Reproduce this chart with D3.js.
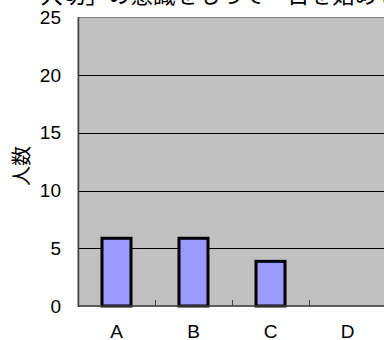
<!DOCTYPE html>
<html>
<head>
<meta charset="utf-8">
<script src="https://cdn.jsdelivr.net/npm/d3@7"></script>
<style>
  html, body { margin: 0; padding: 0; background: #fff; }
  svg { display: block; }
  text { font-family: "Liberation Sans", "Noto Sans CJK JP", sans-serif; fill: #000; }
</style>
</head>
<body>
<svg id="chart" width="384" height="340"></svg>
<script>
// Survey result: number of respondents per answer
const categories = ["A", "B", "C", "D"];
const counts = [6, 6, 4, 0];
const yTicks = [0, 5, 10, 15, 20, 25];
const titleText = "「大切」の意識をもって一日を始める";
const yAxisTitle = "人数";

const svg = d3.select("#chart");
const plot = { left: 78, top: 17.5, right: 386, bottom: 306 };

const x = d3.scaleBand()
  .domain(categories)
  .range([plot.left, plot.right])
  .paddingInner(0)
  .paddingOuter(0);

const y = d3.scaleLinear()
  .domain([0, 25])
  .range([plot.bottom, plot.top]);

// Plot background
svg.append("rect")
  .attr("x", plot.left).attr("y", plot.top)
  .attr("width", plot.right - plot.left)
  .attr("height", plot.bottom - plot.top)
  .attr("fill", "#c0c0c0")
  .attr("stroke", "#808080")
  .attr("stroke-width", 1);

// Horizontal gridlines
svg.append("g")
  .selectAll("line")
  .data(yTicks.filter(d => d > 0 && d < 25))
  .join("line")
  .attr("x1", plot.left).attr("x2", plot.right)
  .attr("y1", d => Math.round(y(d)) + 0.5)
  .attr("y2", d => Math.round(y(d)) + 0.5)
  .attr("stroke", "#000")
  .attr("stroke-width", 1);

// Bars
const barWidth = 32;
svg.append("g")
  .selectAll("rect")
  .data(categories.map((c, i) => ({ c, v: counts[i] })).filter(d => d.v > 0))
  .join("rect")
  .attr("x", d => x(d.c) + x.bandwidth() / 2 - barWidth / 2 + 1.5)
  .attr("y", d => y(d.v) + 1.5)
  .attr("width", barWidth - 3)
  .attr("height", d => y(0) - y(d.v) - 1.5)
  .attr("fill", "#9999ff")
  .attr("stroke", "#000")
  .attr("stroke-width", 3);

// Left axis line
svg.append("line")
  .attr("x1", plot.left + 0.5).attr("x2", plot.left + 0.5)
  .attr("y1", plot.top).attr("y2", plot.bottom + 1)
  .attr("stroke", "#404040").attr("stroke-width", 1.5);

// Bottom axis with inward ticks between categories
const xAxis = d3.axisBottom(x).tickSize(0).tickPadding(19);
const gx = svg.append("g")
  .attr("transform", `translate(0,${plot.bottom})`)
  .call(xAxis);
gx.select(".domain").attr("stroke", "#404040").attr("stroke-width", 1.5)
  .attr("d", `M${plot.left},0H${plot.right}`);
gx.selectAll("text")
  .attr("font-size", 19)
  .attr("font-family", "Liberation Sans, sans-serif")
  .attr("dy", "0.71em");
gx.selectAll(".sep")
  .data(categories.slice(1))
  .join("line")
  .attr("class", "sep")
  .attr("x1", d => Math.round(x(d)) + 0.5)
  .attr("x2", d => Math.round(x(d)) + 0.5)
  .attr("y1", 0).attr("y2", -6)
  .attr("stroke", "#404040").attr("stroke-width", 1);

// Y tick labels
const yAxis = d3.axisLeft(y).tickValues(yTicks).tickSize(0).tickPadding(17);
const gy = svg.append("g")
  .attr("transform", `translate(${plot.left},0)`)
  .call(yAxis);
gy.select(".domain").remove();
gy.selectAll("text")
  .attr("font-size", 19)
  .attr("font-family", "Liberation Sans, sans-serif");

// Y axis title
svg.append("text")
  .attr("transform", `translate(29,166) rotate(-90)`)
  .attr("text-anchor", "middle")
  .attr("font-size", 20)
  .attr("font-family", "Noto Sans CJK JP, sans-serif")
  .text(yAxisTitle);

// Chart title (top part falls outside the view)
svg.append("text")
  .attr("x", 18)
  .attr("y", 3)
  .attr("font-size", 22.5)
  .attr("font-family", "Noto Sans CJK JP, sans-serif")
  .text(titleText);
</script>
</body>
</html>
